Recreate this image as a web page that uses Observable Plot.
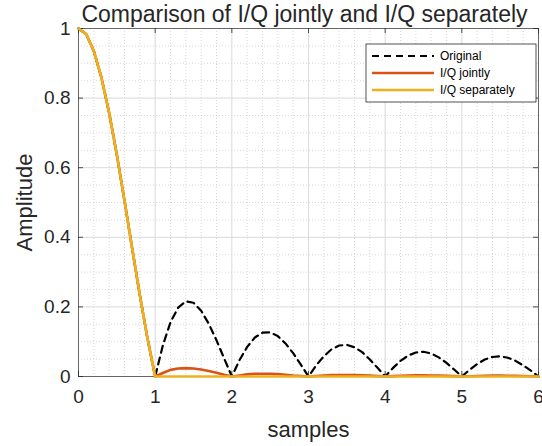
<!DOCTYPE html>
<html>
<head>
<meta charset="utf-8">
<script src="https://cdn.jsdelivr.net/npm/d3@7"></script>
<script src="https://cdn.jsdelivr.net/npm/@observablehq/plot@0.6"></script>
<style>
  html, body { margin: 0; padding: 0; background: #fff; }
  #chart svg { display: block; }
</style>
</head>
<body>
<div id="chart"></div>
<script>
// Sample positions (0.1 step) along the horizontal axis
const samples = [
  0.0, 0.1, 0.2, 0.3, 0.4, 0.5, 0.6, 0.7, 0.8, 0.9,
  1.0, 1.1, 1.2, 1.3, 1.4, 1.5, 1.6, 1.7, 1.8, 1.9,
  2.0, 2.1, 2.2, 2.3, 2.4, 2.5, 2.6, 2.7, 2.8, 2.9,
  3.0, 3.1, 3.2, 3.3, 3.4, 3.5, 3.6, 3.7, 3.8, 3.9,
  4.0, 4.1, 4.2, 4.3, 4.4, 4.5, 4.6, 4.7, 4.8, 4.9,
  5.0, 5.1, 5.2, 5.3, 5.4, 5.5, 5.6, 5.7, 5.8, 5.9,
  6.0
];

// Original pulse magnitude
const original = [
  1.000, 0.984, 0.935, 0.858, 0.757, 0.637, 0.505, 0.368, 0.234, 0.109,
  0.000, 0.089, 0.156, 0.198, 0.216, 0.212, 0.189, 0.151, 0.104, 0.052,
  0.000, 0.047, 0.085, 0.112, 0.126, 0.127, 0.116, 0.095, 0.067, 0.034,
  0.000, 0.032, 0.058, 0.078, 0.089, 0.091, 0.084, 0.070, 0.049, 0.025,
  0.000, 0.024, 0.045, 0.060, 0.069, 0.071, 0.066, 0.055, 0.039, 0.020,
  0.000, 0.019, 0.036, 0.049, 0.056, 0.058, 0.054, 0.045, 0.032, 0.017,
  0.000
];

// I/Q processed jointly
const iqJointly = [
  1.000, 0.984, 0.935, 0.858, 0.757, 0.637, 0.505, 0.368, 0.234, 0.109,
  0.000, 0.010, 0.019, 0.023, 0.024, 0.023, 0.020, 0.016, 0.011, 0.005,
  0.000, 0.003, 0.006, 0.008, 0.008, 0.008, 0.007, 0.005, 0.003, 0.0015,
  0.000, 0.0015, 0.003, 0.004, 0.0045, 0.0045, 0.004, 0.0035, 0.0025, 0.0012,
  0.000, 0.001, 0.002, 0.003, 0.0033, 0.0033, 0.003, 0.0025, 0.0018, 0.001,
  0.000, 0.0008, 0.0015, 0.002, 0.0025, 0.0025, 0.0022, 0.0018, 0.0013, 0.0007,
  0.000
];

// I/Q processed separately
const iqSeparately = [
  1.000, 0.984, 0.935, 0.858, 0.757, 0.637, 0.505, 0.368, 0.234, 0.109,
  0.000, 0.000, 0.000, 0.000, 0.000, 0.000, 0.000, 0.000, 0.000, 0.000,
  0.000, 0.000, 0.000, 0.000, 0.000, 0.000, 0.000, 0.000, 0.000, 0.000,
  0.000, 0.000, 0.000, 0.000, 0.000, 0.000, 0.000, 0.000, 0.000, 0.000,
  0.000, 0.000, 0.000, 0.000, 0.000, 0.000, 0.000, 0.000, 0.000, 0.000,
  0.000, 0.000, 0.000, 0.000, 0.000, 0.000, 0.000, 0.000, 0.000, 0.000,
  0.000
];

const seriesNames = ["Original", "I/Q jointly", "I/Q separately"];
const xTicks = [0, 1, 2, 3, 4, 5, 6];
const yTicks = [0, 0.2, 0.4, 0.6, 0.8, 1];
const xMinor = [0.2, 0.4, 0.6, 0.8, 1.2, 1.4, 1.6, 1.8, 2.2, 2.4, 2.6, 2.8,
                3.2, 3.4, 3.6, 3.8, 4.2, 4.4, 4.6, 4.8, 5.2, 5.4, 5.6, 5.8];
const yMinor = [0.05, 0.1, 0.15, 0.25, 0.3, 0.35, 0.45, 0.5, 0.55,
                0.65, 0.7, 0.75, 0.85, 0.9, 0.95];
const titleText = "Comparison of I/Q jointly and I/Q separately";
const xLabel = "samples";
const yLabel = "Amplitude";

// Table for the line marks
const rows = samples.map((s, i) => ({
  s, original: original[i], jointly: iqJointly[i], separately: iqSeparately[i]
}));

const W = 542, H = 446;
const M = {top: 28, right: 4, bottom: 70, left: 78};
const innerW = W - M.left - M.right;
const innerH = H - M.top - M.bottom;
const tickLen = 5;
const ink = "#262626";
const colors = {original: "#000000", jointly: "#D95319", separately: "#EDB120"};
const font = "'Liberation Sans', Arial, Helvetica, sans-serif";

const chart = Plot.plot({
  width: W,
  height: H,
  marginTop: M.top,
  marginRight: M.right,
  marginBottom: M.bottom,
  marginLeft: M.left,
  style: {fontFamily: font, color: ink, background: "#fff", overflow: "visible"},
  x: {domain: [0, 6]},
  y: {domain: [0, 1]},
  marks: [
    // minor grid (dotted)
    Plot.ruleX(xMinor, {x: d => d, stroke: "#cfcfcf", strokeWidth: 0.8, strokeDasharray: "1,2"}),
    Plot.ruleY(yMinor, {y: d => d, stroke: "#cfcfcf", strokeWidth: 0.8, strokeDasharray: "1,2"}),
    // major grid
    Plot.ruleX(xTicks, {x: d => d, stroke: "#dadada", strokeWidth: 1}),
    Plot.ruleY(yTicks, {y: d => d, stroke: "#dadada", strokeWidth: 1}),
    // inward tick marks on all four sides
    Plot.tickX(xTicks, {x: d => d, insetTop: innerH - tickLen, stroke: ink, strokeWidth: 0.8}),
    Plot.tickX(xTicks, {x: d => d, insetBottom: innerH - tickLen, stroke: ink, strokeWidth: 0.8}),
    Plot.tickY(yTicks, {y: d => d, insetRight: innerW - tickLen, stroke: ink, strokeWidth: 0.8}),
    Plot.tickY(yTicks, {y: d => d, insetLeft: innerW - tickLen, stroke: ink, strokeWidth: 0.8}),
    // axes box
    Plot.frame({stroke: ink, strokeWidth: 0.8, strokeOpacity: 0.8}),
    // tick labels
    Plot.axisX(xTicks, {tickSize: 0, tickPadding: 13, fontSize: 19, label: null, fill: ink}),
    Plot.axisY(yTicks, {tickSize: 0, tickPadding: 8, fontSize: 19, label: null, fill: ink,
                        tickFormat: d => d3.format("~g")(d)}),
    // series
    Plot.line(rows, {x: "s", y: "original", stroke: colors.original, strokeWidth: 2.2,
                     strokeDasharray: "7,5"}),
    Plot.line(rows, {x: "s", y: "jointly", stroke: colors.jointly, strokeWidth: 2.6}),
    Plot.line(rows, {x: "s", y: "separately", stroke: colors.separately, strokeWidth: 2.6}),
    // title and axis labels
    Plot.text([titleText], {frameAnchor: "top", lineAnchor: "middle", textAnchor: "middle",
                            dx: -4, dy: -14, fontSize: 23, fill: ink}),
    Plot.text([xLabel], {frameAnchor: "bottom", lineAnchor: "middle", textAnchor: "middle",
                         dy: 53, fontSize: 22, fill: ink}),
    Plot.text([yLabel], {frameAnchor: "left", lineAnchor: "middle", textAnchor: "middle",
                         dx: -54, rotate: -90, fontSize: 22, fill: ink})
  ]
});

// Legend box in the upper right corner of the axes
const svg = d3.select(chart);
const legend = svg.append("g")
  .attr("font-family", font).attr("font-size", 12).attr("fill", "#000")
  .attr("text-anchor", "start");
const box = {x: 366, y: 44, w: 170, h: 58};
legend.append("rect")
  .attr("x", box.x).attr("y", box.y).attr("width", box.w).attr("height", box.h)
  .attr("fill", "#fff").attr("stroke", ink).attr("stroke-width", 0.8);
const styles = [
  {stroke: colors.original, dash: "7,5", width: 2.2},
  {stroke: colors.jointly, dash: null, width: 2.6},
  {stroke: colors.separately, dash: null, width: 2.6}
];
seriesNames.forEach((name, i) => {
  const yy = box.y + 12 + i * 17;
  legend.append("line")
    .attr("x1", box.x + 6).attr("x2", box.x + 68).attr("y1", yy).attr("y2", yy)
    .attr("stroke", styles[i].stroke).attr("stroke-width", styles[i].width)
    .attr("stroke-dasharray", styles[i].dash);
  legend.append("text")
    .attr("x", box.x + 74).attr("y", yy).attr("dy", "0.35em")
    .attr("text-anchor", "start").text(name);
});

document.getElementById("chart").appendChild(chart);
</script>
</body>
</html>
